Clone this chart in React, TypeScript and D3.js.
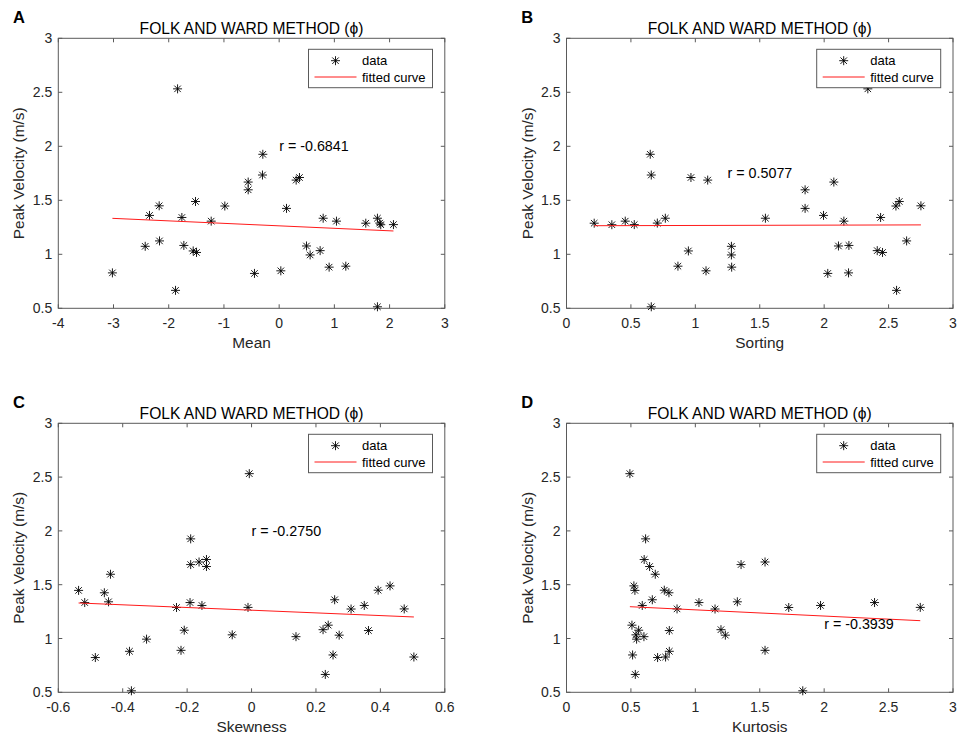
import React from "react";
import * as d3 from "d3";

// Peak velocity of each sample (m/s), with the Folk & Ward grain-size statistics (phi units)
const velocity = [0.514, 0.666, 0.823, 0.828, 0.847, 0.881, 0.89, 0.994, 1.017, 1.031, 1.034, 1.074, 1.077, 1.082, 1.124, 1.274, 1.275, 1.288, 1.289, 1.307, 1.307, 1.334, 1.334, 1.341, 1.36, 1.425, 1.447, 1.449, 1.489, 1.597, 1.669, 1.687, 1.711, 1.734, 1.926, 2.532];
const mean = [1.78, -1.877, -0.447, -3.02, 0.03, 0.905, 1.207, 0.561, -1.497, -1.557, 0.742, -2.426, 0.495, -1.726, -2.167, 1.84, 2.07, 1.569, 1.822, -1.231, 1.038, 0.797, 1.78, -1.762, -2.348, 0.133, -0.984, -2.173, -1.515, -0.561, -0.561, 0.308, 0.368, -0.302, -0.296, -1.84];
const sorting = [0.658, 2.562, 2.028, 2.189, 1.083, 1.282, 0.865, 1.28, 2.453, 0.946, 2.412, 1.28, 2.111, 2.192, 2.64, 0.352, 0.526, 0.215, 0.705, 0.456, 2.153, 0.767, 1.544, 2.438, 1.995, 1.852, 2.557, 2.751, 2.583, 1.852, 2.075, 1.096, 0.966, 0.658, 0.65, 2.339];
const skewness = [-0.373, 0.229, -0.485, 0.504, 0.253, -0.379, -0.219, -0.326, 0.138, 0.272, -0.06, 0.363, -0.209, 0.222, 0.238, 0.309, 0.474, -0.233, -0.011, -0.154, 0.35, -0.518, -0.191, -0.444, 0.258, -0.457, -0.537, 0.393, 0.43, -0.438, -0.14, -0.189, -0.163, -0.14, -0.189, -0.007];
const kurtosis = [1.834, 0.534, 0.707, 0.769, 0.513, 0.798, 1.541, 0.544, 0.601, 1.233, 0.539, 0.798, 0.56, 1.199, 0.508, 1.153, 0.858, 1.725, 2.746, 0.588, 1.972, 1.028, 2.391, 1.326, 0.666, 0.795, 0.531, 0.759, 0.523, 0.689, 0.645, 1.355, 1.541, 0.603, 0.614, 0.492];

// Linear fits: [slope, intercept]
const fitMean = [-0.023, 1.2635];
const fitSorting = [0.003, 1.264];
const fitSkewness = [-0.125, 1.263];
const fitKurtosis = [-0.0577, 1.324];

// Correlation labels and where they sit (data coordinates)
const rLabels = ["r = -0.6841", "r = 0.5077", "r = -0.2750", "r = -0.3939"];
const rPositions = [[0, 2.0], [1.25, 1.75], [0, 2.0], [2.0, 1.14]];

const xLabels = ["Mean", "Sorting", "Skewness", "Kurtosis"];
const panelLetters = ["A", "B", "C", "D"];
const yTicks = [0.5, 1, 1.5, 2, 2.5, 3];
const xTicksMean = [-4, -3, -2, -1, 0, 1, 2, 3];
const xTicksPositive = [0, 0.5, 1, 1.5, 2, 2.5, 3];
const xTicksSkew = [-0.6, -0.4, -0.2, 0, 0.2, 0.4, 0.6];
const TITLE = "FOLK AND WARD METHOD (\u03D5)";

const FONT = "'Liberation Sans', Arial, Helvetica, sans-serif";
const AXIS_COLOR = "#5a5a5a";
const TEXT_COLOR = "#262626";

function Asterisk({ cx, cy, r = 4.5 }: { cx: number; cy: number; r?: number }) {
  const d = r * 0.72;
  const p = `M${cx},${cy - r}V${cy + r}M${cx - r},${cy}H${cx + r}M${cx - d},${cy - d}L${cx + d},${cy + d}M${cx - d},${cy + d}L${cx + d},${cy - d}`;
  return <path d={p} stroke="#000" strokeWidth={0.9} fill="none" />;
}

type PanelProps = {
  left: number;
  top: number;
  width: number;
  height: number;
  xDomain: [number, number];
  xTicks: number[];
  xs: number[];
  fit: number[];
  label: string;
  letter: string;
  rText: string;
  rPos: number[];
};

// Tick labels with a plain hyphen-minus, as MATLAB prints them
const fmt = (v: number) => String(+v.toFixed(2));

function Panel({ left, top, width, height, xDomain, xTicks, xs, fit, label, letter, rText, rPos }: PanelProps) {
  const x = d3.scaleLinear().domain(xDomain).range([left, left + width]);
  const y = d3.scaleLinear().domain([0.5, 3]).range([top + height, top]);
  const right = left + width;
  const bottom = top + height;
  const tl = 4;

  const xMin = d3.min(xs) as number;
  const xMax = d3.max(xs) as number;
  const line = d3.line<number>().x((v) => x(v)).y((v) => y(fit[0] * v + fit[1]));

  const lx = right - 136.3;
  const ly = top + 11;

  return (
    <g>
      <text x={left - 45.3} y={top - 15} fontFamily={FONT} fontWeight="bold" fontSize={16.5} fill="#000">
        {letter}
      </text>
      <text x={(left + right) / 2} y={top - 4.5} textAnchor="middle" fontFamily={FONT} fontSize={15.6} fill="#000">
        {TITLE}
      </text>
      <rect x={left} y={top} width={width} height={height} fill="#fff" />
      {/* ticks, mirrored on all four sides */}
      {xTicks.map((t) => (
        <g key={"xt" + t}>
          <line x1={x(t)} x2={x(t)} y1={bottom} y2={bottom - tl} stroke={AXIS_COLOR} strokeWidth={1} />
          <line x1={x(t)} x2={x(t)} y1={top} y2={top + tl} stroke={AXIS_COLOR} strokeWidth={1} />
          <text x={x(t)} y={bottom + 20} textAnchor="middle" fontFamily={FONT} fontSize={14} fill={TEXT_COLOR}>
            {fmt(t)}
          </text>
        </g>
      ))}
      {yTicks.map((t) => (
        <g key={"yt" + t}>
          <line x1={left} x2={left + tl} y1={y(t)} y2={y(t)} stroke={AXIS_COLOR} strokeWidth={1} />
          <line x1={right} x2={right - tl} y1={y(t)} y2={y(t)} stroke={AXIS_COLOR} strokeWidth={1} />
          <text x={left - 6} y={y(t)} dy="0.36em" textAnchor="end" fontFamily={FONT} fontSize={14} fill={TEXT_COLOR}>
            {fmt(t)}
          </text>
        </g>
      ))}
      <rect x={left} y={top} width={width} height={height} fill="none" stroke={AXIS_COLOR} strokeWidth={1} />
      <text x={(left + right) / 2} y={bottom + 39.5} textAnchor="middle" fontFamily={FONT} fontSize={15.4} fill={TEXT_COLOR}>
        {label}
      </text>
      <text
        transform={`translate(${left - 34},${(top + bottom) / 2}) rotate(-90)`}
        textAnchor="middle"
        fontFamily={FONT}
        fontSize={15.4}
        fill={TEXT_COLOR}
      >
        Peak Velocity (m/s)
      </text>
      {/* data */}
      {xs.map((v, i) => (
        <Asterisk key={i} cx={x(v)} cy={y(velocity[i])} />
      ))}
      <path d={line([xMin, xMax]) || ""} stroke="#ff1a1a" strokeWidth={1} fill="none" />
      <text x={x(rPos[0])} y={y(rPos[1])} dy="0.36em" fontFamily={FONT} fontSize={14.3} fill="#000">
        {rText}
      </text>
      {/* legend */}
      <rect x={lx} y={ly} width={124} height={38.4} fill="#fff" stroke={AXIS_COLOR} strokeWidth={1} />
      <Asterisk cx={lx + 27} cy={ly + 11.4} />
      <line x1={lx + 6} x2={lx + 48} y1={ly + 27.7} y2={ly + 27.7} stroke="#ff1a1a" strokeWidth={1} />
      <text x={lx + 53.5} y={ly + 11.4} dy="0.36em" fontFamily={FONT} fontSize={13} fill="#000">
        data
      </text>
      <text x={lx + 53.5} y={ly + 27.7} dy="0.36em" fontFamily={FONT} fontSize={13} fill="#000">
        fitted curve
      </text>
    </g>
  );
}

export default function App() {
  const W = 957;
  const H = 738;
  const pw = 386.5;
  const ph = 270;
  const cols = [58.3, 566.5];
  const rows = [38.3, 423.3];
  const panels = [
    { xDomain: [-4, 3] as [number, number], xTicks: xTicksMean, xs: mean, fit: fitMean },
    { xDomain: [0, 3] as [number, number], xTicks: xTicksPositive, xs: sorting, fit: fitSorting },
    { xDomain: [-0.6, 0.6] as [number, number], xTicks: xTicksSkew, xs: skewness, fit: fitSkewness },
    { xDomain: [0, 3] as [number, number], xTicks: xTicksPositive, xs: kurtosis, fit: fitKurtosis },
  ];
  return (
    <svg
      width={W}
      height={H}
      viewBox={`0 0 ${W} ${H}`}
      style={{ position: "absolute", left: 0, top: 0, background: "#fff" }}
    >
      <rect width={W} height={H} fill="#fff" />
      {panels.map((p, i) => (
        <Panel
          key={i}
          left={cols[i % 2]}
          top={rows[Math.floor(i / 2)]}
          width={pw}
          height={ph - (i >= 2 ? 1 : 0)}
          xDomain={p.xDomain}
          xTicks={p.xTicks}
          xs={p.xs}
          fit={p.fit}
          label={xLabels[i]}
          letter={panelLetters[i]}
          rText={rLabels[i]}
          rPos={rPositions[i]}
        />
      ))}
    </svg>
  );
}
